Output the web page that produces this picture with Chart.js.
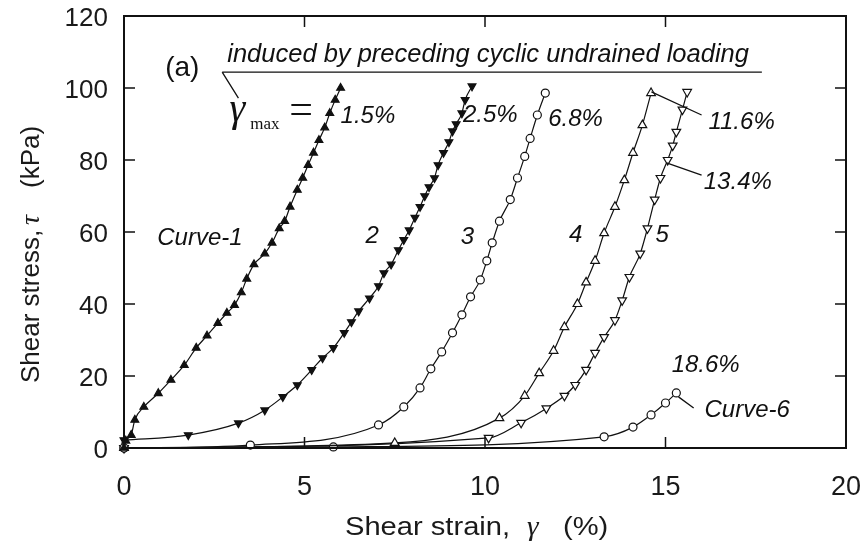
<!DOCTYPE html>
<html>
<head>
<meta charset="utf-8">
<script src="https://cdn.jsdelivr.net/npm/chart.js@4.4.1/dist/chart.umd.min.js"></script>
<style>
  html, body { margin: 0; padding: 0; background: #fff; }
  #wrap { width: 866px; height: 550px; }
</style>
</head>
<body>
<div id="wrap"><canvas id="chart" width="866" height="550"></canvas></div>
<script>
const SANS = '"Liberation Sans", Arial, Helvetica, sans-serif';
const SERIF = '"Liberation Serif", "Times New Roman", serif';
const INK = '#111';

// axis ticks
const strainTicks = [0, 5, 10, 15, 20];
const stressTicks = [0, 20, 40, 60, 80, 100, 120];

// Curve-1, gamma_max = 1.5% (solid up-triangles)
const strain1 = [0, 0.05, 0.2, 0.3, 0.55, 0.95, 1.3, 1.67, 2.0, 2.3, 2.6, 2.85, 3.06, 3.25, 3.4, 3.6, 3.9, 4.1, 4.3, 4.45, 4.6, 4.8, 4.95, 5.1, 5.25, 5.4, 5.56, 5.7, 5.85, 6.0];
const stress1 = [0, 2, 3.6, 7.8, 11.4, 15.2, 18.9, 23, 27.8, 31.2, 34.7, 37.5, 39.7, 43.2, 47, 51, 54, 57, 61, 63, 67, 71.7, 75, 78.6, 82, 85.5, 89, 93, 96.7, 100];

// Curve 2, gamma_max = 2.5% (solid down-triangles)
const strain2 = [0, 1.78, 3.17, 3.9, 4.4, 4.8, 5.2, 5.5, 5.8, 6.1, 6.3, 6.5, 6.8, 7.05, 7.2, 7.4, 7.6, 7.75, 7.9, 8.06, 8.2, 8.33, 8.45, 8.6, 8.7, 8.85, 9.0, 9.1, 9.2, 9.36, 9.45, 9.64];
const stress2 = [2.2, 3.6, 6.9, 10.5, 14.2, 17.5, 21.7, 25, 27.8, 32, 35, 38, 41.6, 45, 48.6, 51, 55, 57.8, 60.5, 64, 67, 70, 72.5, 75, 78.6, 82, 85, 88, 90, 93, 96.7, 100.5];

// Curve 3, gamma_max = 6.8% (open circles)
const strain3 = [0, 3.5, 7.05, 7.75, 8.2, 8.5, 8.8, 9.1, 9.36, 9.6, 9.87, 10.05, 10.2, 10.4, 10.7, 10.9, 11.1, 11.25, 11.45, 11.67];
const stress3 = [0, 0.8, 6.4, 11.4, 16.7, 22, 26.7, 32, 37, 42, 46.7, 52, 57, 63, 69, 75, 81, 86, 92.5, 98.6];

// Curve 4, gamma_max = 11.6% (open up-triangles)
const strain4 = [0, 7.5, 10.4, 11.1, 11.5, 11.9, 12.2, 12.56, 12.8, 13.05, 13.3, 13.6, 13.86, 14.1, 14.36, 14.6];
const stress4 = [0, 1.4, 8.3, 14.5, 20.8, 27, 33.6, 40, 46, 52, 59.7, 67, 74.4, 82, 89.7, 98.6];

// Curve 5, gamma_max = 13.4% (open down-triangles)
const strain5 = [0, 10.1, 11.0, 11.7, 12.2, 12.5, 12.8, 13.05, 13.3, 13.6, 13.8, 14.0, 14.3, 14.5, 14.7, 14.86, 15.06, 15.2, 15.3, 15.47, 15.6];
const stress5 = [0, 2.8, 7, 11, 14.5, 17.5, 21.7, 26.4, 30.8, 35.5, 41, 47.5, 54, 61, 69, 75, 80, 84, 87.8, 94, 98.9];

// Curve-6, gamma_max = 18.6% (open circles)
const strain6 = [0, 5.8, 13.3, 14.1, 14.6, 15.0, 15.3];
const stress6 = [0, 0.3, 3.1, 5.8, 9.2, 12.5, 15.3];

function curve(xs, ys, marker) {
  return Object.assign({
    data: xs.map((x, i) => ({ x: x, y: ys[i] })),
    showLine: true,
    borderColor: INK,
    borderWidth: 1.2,
    pointBorderColor: INK,
    pointBorderWidth: 1.2,
    cubicInterpolationMode: 'monotone',
    clip: false
  }, marker);
}

const solidUp = { pointStyle: 'triangle', pointRadius: 4.5, pointBackgroundColor: INK };
const solidDown = { pointStyle: 'triangle', pointRotation: 180, pointRadius: 4.5, pointBackgroundColor: INK };
const openCircle = { pointStyle: 'circle', pointRadius: 4, pointBackgroundColor: '#fff' };
const openUp = { pointStyle: 'triangle', pointRadius: 5, pointBackgroundColor: '#fff' };
const openDown = { pointStyle: 'triangle', pointRotation: 180, pointRadius: 5, pointBackgroundColor: '#fff' };

const ITAL = 'italic 24px ' + SANS;

// in-plot labels, positioned in data units
const notes = [
  { x: 1.14, y: 105.6, text: '(a)', font: '28px ' + SANS },
  { x: 2.86, y: 109.2, text: 'induced by preceding cyclic undrained loading', font: 'italic 25.5px ' + SANS },
  { x: 6.0, y: 92.2, text: '1.5%', font: ITAL },
  { x: 9.39, y: 92.5, text: '2.5%', font: ITAL },
  { x: 11.75, y: 91.4, text: '6.8%', font: ITAL },
  { x: 16.19, y: 90.5, text: '11.6%', font: ITAL },
  { x: 16.06, y: 73.9, text: '13.4%', font: ITAL },
  { x: 0.92, y: 58.3, text: 'Curve-1', font: ITAL },
  { x: 6.69, y: 58.9, text: '2', font: ITAL },
  { x: 9.33, y: 58.6, text: '3', font: ITAL },
  { x: 12.33, y: 59.2, text: '4', font: ITAL },
  { x: 14.72, y: 59.2, text: '5', font: ITAL },
  { x: 15.17, y: 23, text: '18.6%', font: ITAL },
  { x: 16.08, y: 10.6, text: 'Curve-6', font: ITAL }
];

// leader and underline strokes, data units
const leaders = [
  [2.72, 104.4, 17.67, 104.4],
  [2.72, 104.4, 3.17, 97.2],
  [14.61, 98.9, 16.0, 92.5],
  [15.03, 79.2, 16.0, 75.8],
  [15.36, 14.2, 15.78, 11.1]
];

// text with an optional horizontal stretch
function put(ctx, str, x, y, font, stretch) {
  ctx.save();
  ctx.font = font;
  ctx.translate(x, y);
  ctx.scale(stretch || 1, 1);
  ctx.fillText(str, 0, 0);
  ctx.restore();
}

const decor = {
  id: 'decor',
  afterDatasetsDraw(chart) {
    const { ctx, chartArea: a, scales } = chart;
    const sx = scales.x, sy = scales.y;
    const X = v => sx.getPixelForValue(v), Y = v => sy.getPixelForValue(v);
    ctx.save();
    ctx.strokeStyle = INK;
    ctx.fillStyle = INK;

    // frame
    ctx.lineWidth = 2;
    ctx.strokeRect(a.left, a.top, a.right - a.left, a.bottom - a.top);

    // inward ticks on all four sides
    const len = 11;
    ctx.lineWidth = 1.5;
    ctx.beginPath();
    sx.ticks.forEach(t => {
      if (t.value <= sx.min || t.value >= sx.max) return;
      const px = X(t.value);
      ctx.moveTo(px, a.bottom); ctx.lineTo(px, a.bottom - len);
      ctx.moveTo(px, a.top); ctx.lineTo(px, a.top + len);
    });
    sy.ticks.forEach(t => {
      if (t.value <= sy.min || t.value >= sy.max) return;
      const py = Y(t.value);
      ctx.moveTo(a.left, py); ctx.lineTo(a.left + len, py);
      ctx.moveTo(a.right, py); ctx.lineTo(a.right - len, py);
    });
    ctx.stroke();

    // leaders
    ctx.lineWidth = 1.3;
    ctx.beginPath();
    leaders.forEach(l => {
      ctx.moveTo(X(l[0]), Y(l[1]));
      ctx.lineTo(X(l[2]), Y(l[3]));
    });
    ctx.stroke();

    // labels
    ctx.textAlign = 'left';
    ctx.textBaseline = 'middle';
    notes.forEach(n => put(ctx, n.text, X(n.x), Y(n.y), n.font));

    // gamma_max =
    ctx.textBaseline = 'alphabetic';
    put(ctx, '\u03b3', X(2.92), Y(90.8), 'italic 40px ' + SERIF);
    put(ctx, 'max', X(3.5), Y(88.6), '17px ' + SERIF);
    ctx.textBaseline = 'middle';
    put(ctx, '=', X(4.58), Y(93.4), '42px ' + SERIF);

    // axis titles
    ctx.fillStyle = '#1a1a1a';
    ctx.textBaseline = 'alphabetic';
    put(ctx, 'Shear strain,', 345, 535, '26px ' + SANS, 1.12);
    put(ctx, '\u03b3', 527, 535, 'italic 28px ' + SERIF, 1.05);
    put(ctx, '(%)', 563, 535, '26px ' + SANS, 1.12);

    ctx.translate(39, 383);
    ctx.rotate(-Math.PI / 2);
    put(ctx, 'Shear stress,', 0, 0, '26px ' + SANS);
    put(ctx, '\u03c4', 158, 0, 'italic 28px ' + SERIF);
    put(ctx, '(kPa)', 195, 0, '26px ' + SANS);
    ctx.restore();
  }
};

new Chart(document.getElementById('chart'), {
  type: 'scatter',
  data: {
    datasets: [
      curve(strain1, stress1, solidUp),
      curve(strain2, stress2, solidDown),
      curve(strain3, stress3, openCircle),
      curve(strain4, stress4, openUp),
      curve(strain5, stress5, openDown),
      curve(strain6, stress6, openCircle)
    ]
  },
  options: {
    responsive: false,
    animation: false,
    devicePixelRatio: 1,
    layout: { padding: { top: 16, right: 20, left: 0, bottom: 0 } },
    plugins: { legend: { display: false }, tooltip: { enabled: false } },
    scales: {
      x: {
        type: 'linear',
        min: strainTicks[0],
        max: strainTicks[strainTicks.length - 1],
        afterFit: s => { s.height = 102; s.paddingLeft = 0; s.paddingRight = 0; },
        afterBuildTicks: s => { s.ticks = strainTicks.map(v => ({ value: v })); },
        grid: { display: false, drawTicks: false },
        border: { display: false },
        ticks: { padding: 23, color: '#1a1a1a', font: { family: SANS, size: 27 }, maxRotation: 0 }
      },
      y: {
        type: 'linear',
        min: stressTicks[0],
        max: stressTicks[stressTicks.length - 1],
        afterFit: s => { s.width = 124; s.paddingTop = 0; s.paddingBottom = 0; },
        afterBuildTicks: s => { s.ticks = stressTicks.map(v => ({ value: v })); },
        grid: { display: false, drawTicks: false },
        border: { display: false },
        ticks: { padding: 16, labelOffset: 3, color: '#1a1a1a', font: { family: SANS, size: 26 } }
      }
    }
  },
  plugins: [decor]
});
</script>
</body>
</html>
